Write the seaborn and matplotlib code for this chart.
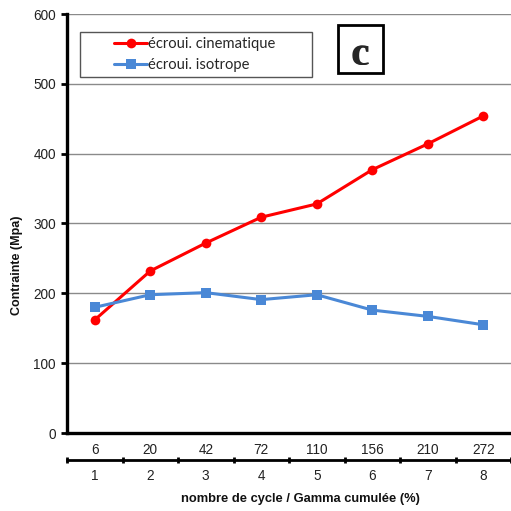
import matplotlib
matplotlib.use("Agg")
import matplotlib.pyplot as plt
from matplotlib.patches import Rectangle
from matplotlib.font_manager import FontProperties
import seaborn as sns
import pandas as pd
import numpy as np

cycles = [1, 2, 3, 4, 5, 6, 7, 8]
gamma_cumulee = ["6", "20", "42", "72", "110", "156", "210", "272"]
cinematique = [162, 232, 272, 309, 328, 377, 414, 454]
isotrope = [180, 198, 201, 191, 198, 176, 167, 155]
series_names = ["écroui. cinematique", "écroui. isotrope"]
y_ticks = [0, 100, 200, 300, 400, 500, 600]

df = pd.DataFrame({
    "cycle": cycles * 2,
    "contrainte": cinematique + isotrope,
    "serie": [series_names[0]] * len(cycles) + [series_names[1]] * len(cycles),
})

sns.set_theme(style="white")
plt.rcParams["font.family"] = ["Liberation Sans", "DejaVu Sans"]

fig = plt.figure(figsize=(5.11, 5.11), dpi=100)
ax = fig.add_axes([67 / 511, 1 - 433 / 511, 444 / 511, 419 / 511])

sns.lineplot(
    data=df, x="cycle", y="contrainte", hue="serie", style="serie",
    palette={series_names[0]: "#FF0000", series_names[1]: "#4A88D6"},
    markers={series_names[0]: "o", series_names[1]: "s"},
    dashes=False, linewidth=2.2, markersize=7, markeredgewidth=0,
    ax=ax, legend=True, zorder=3,
)

ax.set_xlim(0.5, 8.5)
ax.set_ylim(0, 600)
ax.set_yticks(y_ticks)
ax.yaxis.grid(True, color="#8a8a8a", linewidth=1.0)
ax.set_axisbelow(True)
ax.tick_params(axis="y", which="major", left=True, length=4, width=2,
               color="black", direction="out", labelsize=9.8, pad=4, labelcolor="#222222")

for s in ["top", "right"]:
    ax.spines[s].set_visible(False)
for s in ["left", "bottom"]:
    ax.spines[s].set_color("black")
    ax.spines[s].set_linewidth(2.4)

boundaries = np.arange(0.5, 9.0, 1.0)
ax.set_xticks(cycles, labels=gamma_cumulee)
ax.set_xticks(boundaries, minor=True)
ax.tick_params(axis="x", which="major", length=0, pad=7.5, labelsize=9.8, labelcolor="#222222")
ax.tick_params(axis="x", which="minor", length=5, width=2, color="black", direction="out")
ax.set_xlabel("")
ax.set_ylabel("")

sec = ax.secondary_xaxis(-0.0644)
sec.set_xticks(cycles, labels=[str(c) for c in cycles])
sec.set_xticks(boundaries, minor=True)
sec.tick_params(axis="x", which="major", length=0, pad=6.5, labelsize=9.8, labelcolor="#222222")
sec.tick_params(axis="x", which="minor", length=5, width=2, color="black", direction="inout")
sec.spines["bottom"].set_linewidth(2.0)
sec.spines["bottom"].set_color("black")

fig.text(300 / 511, 1 - 499 / 511, "nombre de cycle / Gamma cumulée (%)",
         ha="center", va="center", fontsize=9.3, fontweight="bold", color="#111111")
fig.text(17 / 511, 1 - 265 / 511, "Contrainte (Mpa)", rotation=90,
         ha="center", va="center", fontsize=9.0, fontweight="bold", color="#111111")

# legend
handles, labels = ax.get_legend_handles_labels()
ax.legend(handles, labels, loc="center", frameon=False,
          bbox_to_anchor=((195 - 67) / 444, (433 - 54.5) / 419),
          prop={"family": "Lato", "size": 10.6}, handlelength=2.2,
          handletextpad=0.1, labelspacing=0.45, borderpad=0.2)
ax.add_patch(Rectangle(((80 - 67) / 444, (433 - 77) / 419), (312 - 80) / 444, 45 / 419,
                       transform=ax.transAxes, fill=True, facecolor="white",
                       edgecolor="#555555", linewidth=1.0, zorder=4))
ax.get_legend().set_zorder(5)

# "c" box
ax.add_patch(Rectangle(((338 - 67) / 444, (433 - 73) / 419), 45 / 444, 48 / 419,
                       transform=ax.transAxes, facecolor="white",
                       edgecolor="black", linewidth=2.0, zorder=4))
cfont = FontProperties(family=["Liberation Serif", "DejaVu Serif"], weight="bold", size=29)
ax.text((360 - 67) / 444, (433 - 65) / 419, "c", transform=ax.transAxes,
        ha="center", va="baseline", fontproperties=cfont, zorder=5)
ax.text((360.6 - 67) / 444, (433 - 65) / 419, "c", transform=ax.transAxes,
        ha="center", va="baseline", fontproperties=cfont, zorder=5)

fig.savefig("out.png", dpi=100)
